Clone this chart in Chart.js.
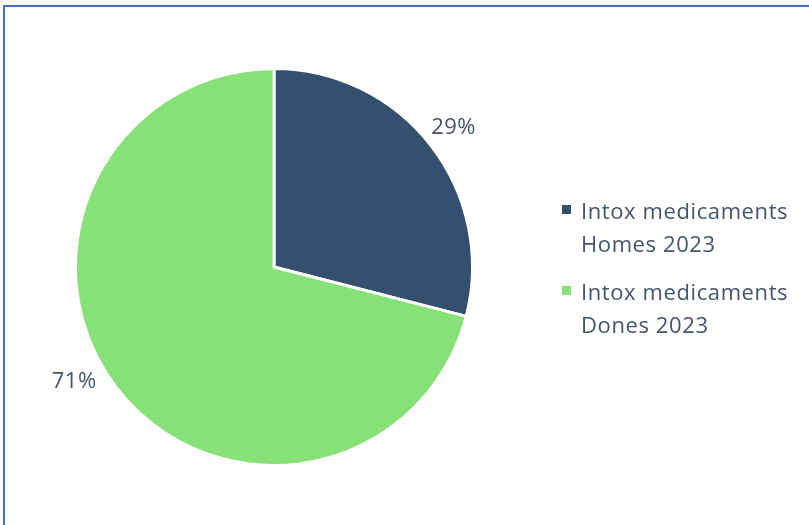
<!DOCTYPE html>
<html>
<head>
<meta charset="utf-8">
<script src="https://cdn.jsdelivr.net/npm/chart.js@4/dist/chart.umd.min.js"></script>
<style>
  html, body { margin: 0; padding: 0; background: #fff; }
  #wrap { position: relative; width: 809px; height: 525px; overflow: hidden; }
  #frame { position: absolute; left: 3px; top: 5px; width: 900px; height: 600px;
           border-top: 2px solid #4472C4; border-left: 2px solid #4472C4; pointer-events: none; }
  canvas { position: absolute; left: 0; top: 0; }
</style>
</head>
<body>
<div id="wrap">
  <canvas id="c" width="809" height="525"></canvas>
  <div id="frame"></div>
</div>
<script>
const categories = [["Intox medicaments", "Homes 2023"], ["Intox medicaments", "Dones 2023"]];
const values = [29, 71];
const colors = ["#34506E", "#88E078"];
const labelAngleNudge = [0, 8];      // degrees
const labelRadiusFactor = [1.145, 1.16];

const FONT = '"Open Sans", "Liberation Sans", sans-serif';
const TEXT = "#44546A";

const dataLabels = {
  id: 'dataLabels',
  afterDatasetsDraw(chart) {
    const ctx = chart.ctx;
    const meta = chart.getDatasetMeta(0);
    const total = values.reduce((a, b) => a + b, 0);
    ctx.save();
    ctx.font = '22px ' + FONT;
    ctx.letterSpacing = '0.5px';
    ctx.fillStyle = TEXT;
    ctx.textAlign = 'center';
    ctx.textBaseline = 'middle';
    meta.data.forEach((arc, i) => {
      const mid = (arc.startAngle + arc.endAngle) / 2 + labelAngleNudge[i] * Math.PI / 180;
      const r = arc.outerRadius * labelRadiusFactor[i];
      const x = arc.x + Math.cos(mid) * r;
      const y = arc.y + Math.sin(mid) * r;
      ctx.fillText(Math.round(values[i] / total * 100) + '%', x, y);
    });
    ctx.restore();
  }
};

const sideLegend = {
  id: 'sideLegend',
  afterDraw(chart) {
    const ctx = chart.ctx;
    const labels = chart.data.labels;
    const bg = chart.data.datasets[0].backgroundColor;
    ctx.save();
    ctx.font = '22px ' + FONT;
    ctx.letterSpacing = '0.6px';
    ctx.textBaseline = 'alphabetic';
    const x0 = 562, tx = 581;
    const startY = 219, lineH = 33, entryGap = 48;
    let y = startY;
    labels.forEach((lab, i) => {
      ctx.fillStyle = bg[i];
      ctx.fillRect(x0, y - 14, 9, 9);
      ctx.fillStyle = TEXT;
      lab.forEach((line, j) => {
        ctx.fillText(line, tx, y + j * lineH);
      });
      y += (lab.length - 1) * lineH + entryGap;
    });
    ctx.restore();
  }
};

new Chart(document.getElementById('c'), {
  type: 'pie',
  data: {
    labels: categories,
    datasets: [{
      data: values,
      backgroundColor: colors,
      borderColor: '#ffffff',
      borderWidth: 3
    }]
  },
  options: {
    responsive: false,
    animation: false,
    layout: { padding: { left: 74, right: 335, top: 66, bottom: 57 } },
    plugins: {
      legend: { display: false },
      tooltip: { enabled: false }
    }
  },
  plugins: [dataLabels, sideLegend]
});
</script>
</body>
</html>
